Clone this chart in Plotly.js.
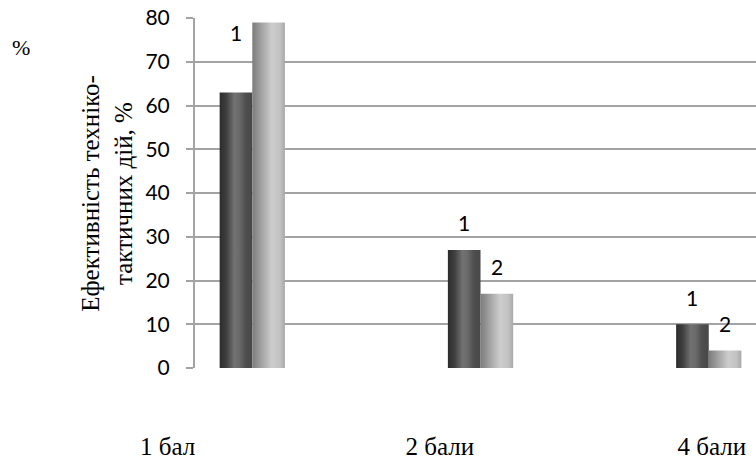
<!DOCTYPE html>
<html>
<head>
<meta charset="utf-8">
<script src="https://cdn.plot.ly/plotly-3.0.1.min.js"></script>
<style>
  html, body { margin: 0; padding: 0; background: #ffffff; }
  #wrap { position: relative; width: 756px; height: 461px; }
  #chart { width: 756px; height: 461px; }
  .lbl { position: absolute; font-family: 'Liberation Serif', 'Times New Roman', serif; color: #000; white-space: nowrap;
         line-height: 1.3; text-align: center; pointer-events: none; }
</style>
</head>
<body>
<div id="wrap"><div id="chart"></div></div>
<script>
// ---- data ----
const categories = ['1 бал', '2 бали', '4 бали'];
const series1 = [63, 27, 10];   // група 1
const series2 = [79, 17, 4];    // група 2
const labels1 = ['1', '1', '1'];
const labels2 = ['', '2', '2'];
const yTicks = [0, 10, 20, 30, 40, 50, 60, 70, 80];
const yTitleLines = ['Ефективність техніко-', 'тактичних дій, %'];
const cornerUnit = '%';

// ---- styles ----
const GRID = '#a3a3a3';
const SANS_FONT = 'Lato';
const xIdx = categories.map((c, i) => i);

const traces = [
  { type: 'bar', x: xIdx, y: series1, name: '1', marker: { color: '#555555', line: { width: 0 } }, hoverinfo: 'none' },
  { type: 'bar', x: xIdx, y: series2, name: '2', marker: { color: '#b5b5b5', line: { width: 0 } }, hoverinfo: 'none' }
];

const annotations = [];
const halfBar = 16.3;
categories.forEach((c, i) => {
  if (labels1[i]) {
    const yy = i === 0 ? 76.6 : series1[i];
    annotations.push({ x: i, y: yy, xref: 'x', yref: 'y', text: labels1[i], showarrow: false,
      xshift: -halfBar, yshift: i === 0 ? 0 : 27, font: { family: SANS_FONT, size: 21, color: '#000000' } });
  }
  if (labels2[i]) {
    annotations.push({ x: i, y: series2[i], xref: 'x', yref: 'y', text: labels2[i], showarrow: false,
      xshift: halfBar, yshift: 27, font: { family: SANS_FONT, size: 21, color: '#000000' } });
  }
});

const layout = {
  width: 756, height: 461,
  margin: { l: 195, r: 0, t: 18, b: 93, pad: 0 },
  paper_bgcolor: '#ffffff', plot_bgcolor: '#ffffff',
  showlegend: false,
  barmode: 'group', bargap: 0.714, bargroupgap: 0,
  xaxis: { range: [-0.251, 2.207], showticklabels: false, ticks: '', showgrid: false, zeroline: false,
           showline: false, fixedrange: true },
  yaxis: { range: [0, 80], tickvals: yTicks, ticktext: yTicks.map(String), showgrid: true, gridcolor: GRID, gridwidth: 2,
           zeroline: false, showline: true, linecolor: GRID, linewidth: 2, ticks: 'outside', ticklen: 7,
           tickcolor: GRID, tickwidth: 2, ticklabelstandoff: 12,
           tickfont: { family: SANS_FONT, size: 21, color: '#000000' }, fixedrange: true },
  annotations: annotations
};

Plotly.newPlot('chart', traces, layout, { displayModeBar: false }).then(gd => {
  // bar gradients
  const svg = gd.querySelector('.main-svg');
  const NS = 'http://www.w3.org/2000/svg';
  const defs = document.createElementNS(NS, 'defs');
  function grad(id, stops) {
    const g = document.createElementNS(NS, 'linearGradient');
    g.setAttribute('id', id);
    g.setAttribute('x1', '0'); g.setAttribute('y1', '0');
    g.setAttribute('x2', '1'); g.setAttribute('y2', '0');
    stops.forEach(([o, c]) => {
      const s = document.createElementNS(NS, 'stop');
      s.setAttribute('offset', o); s.setAttribute('stop-color', c);
      g.appendChild(s);
    });
    defs.appendChild(g);
  }
  grad('gDark', [['0', '#2c2c2c'], ['0.2', '#3e3e3e'], ['0.45', '#727272'], ['0.6', '#6a6a6a'], ['0.8', '#4e4e4e'], ['1', '#484848']]);
  grad('gLight', [['0', '#7c7c7c'], ['0.3', '#a4a4a4'], ['0.6', '#cdcdcd'], ['0.85', '#c2c2c2'], ['1', '#a8a8a8']]);
  svg.insertBefore(defs, svg.firstChild);
  gd.querySelectorAll('.barlayer .trace').forEach((t, k) => {
    t.querySelectorAll('path').forEach(p => { p.style.fill = k === 0 ? 'url(#gDark)' : 'url(#gLight)'; });
  });

  // serif texts (category labels, axis title, unit) placed relative to the plot area
  const fl = gd._fullLayout, sz = fl._size;
  const wrap = document.getElementById('wrap');
  function addLabel(text, cx, cy, size, rotate) {
    const d = document.createElement('div');
    d.className = 'lbl';
    d.style.fontSize = size + 'px';
    d.innerHTML = text;
    wrap.appendChild(d);
    const w = d.offsetWidth, h = d.offsetHeight;
    d.style.left = (cx - w / 2) + 'px';
    d.style.top = (cy - h / 2) + 'px';
    if (rotate) d.style.transform = 'rotate(' + rotate + 'deg)';
  }
  const catPos = [-0.049, 0.4367, 0.9216];
  categories.forEach((c, i) => addLabel(c, sz.l + catPos[i] * sz.w, sz.t + sz.h + 79, 25, 0));
  addLabel(yTitleLines.join('<br>'), sz.l - 88, sz.t + sz.h / 2, 25, -90);
  addLabel(cornerUnit, sz.l - 174, sz.t + 30, 22, 0);
});
</script>
</body>
</html>
